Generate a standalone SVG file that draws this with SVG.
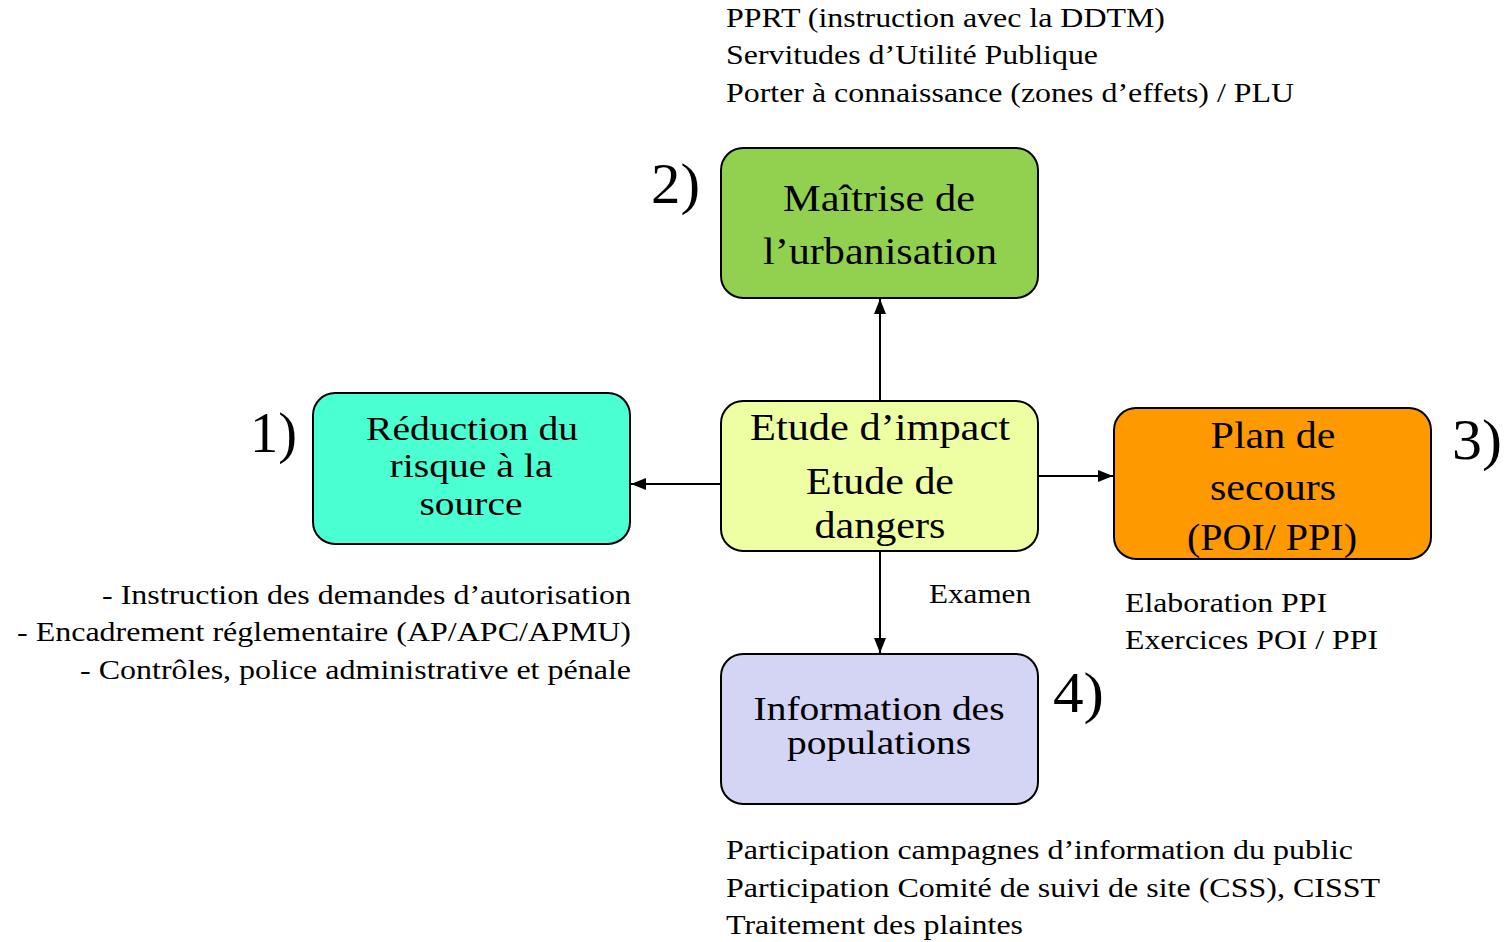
<svg xmlns="http://www.w3.org/2000/svg" width="1505" height="942" viewBox="0 0 1505 942">
<style>
text{font-family:"Times New Roman","Liberation Serif",Times,serif;fill:#000}
.box{stroke:#000;stroke-width:2}
.bt{font-size:37px;text-anchor:middle}
.bs{font-size:33px}
.ot{font-size:27px}
.num{font-size:58px}
.conn line{stroke:#000;stroke-width:2}
</style>
<defs>
<marker id="ah" markerWidth="16" markerHeight="12" refX="15" refY="6" orient="auto" markerUnits="userSpaceOnUse">
<path d="M0,0 L15,6 L0,12 Z" fill="#000"/>
</marker>
</defs>
<rect width="1505" height="942" fill="#fff"/>
<g id="connectors" class="conn">
<line x1="880" y1="401" x2="880" y2="299" marker-end="url(#ah)"/>
<line x1="721" y1="484" x2="631" y2="484" marker-end="url(#ah)"/>
<line x1="1038" y1="476" x2="1113" y2="476" marker-end="url(#ah)"/>
<line x1="880" y1="551" x2="880" y2="653" marker-end="url(#ah)"/>
<text class="ot" x="929" y="603" textLength="102" lengthAdjust="spacingAndGlyphs">Examen</text>
</g>
<g id="node-urbanisation">
<rect class="box" x="721" y="148" width="317" height="150" rx="22" fill="#92D050"/>
<text class="bt" x="879" y="211" textLength="192" lengthAdjust="spacingAndGlyphs">Maîtrise de</text>
<text class="bt" x="880" y="264" textLength="234" lengthAdjust="spacingAndGlyphs">l’urbanisation</text>
</g>
<g id="node-reduction">
<rect class="box" x="313" y="393" width="317" height="151" rx="22" fill="#4AFFD2"/>
<text class="bt bs" x="472" y="440" textLength="212" lengthAdjust="spacingAndGlyphs">Réduction du</text>
<text class="bt bs" x="471" y="477" textLength="163" lengthAdjust="spacingAndGlyphs">risque à la</text>
<text class="bt bs" x="471" y="515" textLength="103" lengthAdjust="spacingAndGlyphs">source</text>
</g>
<g id="node-etude">
<rect class="box" x="721" y="401" width="317" height="150" rx="22" fill="#EDFFA2"/>
<text class="bt" x="880" y="440" textLength="260" lengthAdjust="spacingAndGlyphs">Etude d’impact</text>
<text class="bt" x="880" y="494" textLength="148" lengthAdjust="spacingAndGlyphs">Etude de</text>
<text class="bt" x="880" y="538" textLength="131" lengthAdjust="spacingAndGlyphs">dangers</text>
</g>
<g id="node-secours">
<rect class="box" x="1114" y="408" width="317" height="151" rx="22" fill="#FF9900"/>
<text class="bt" x="1273" y="448" textLength="125" lengthAdjust="spacingAndGlyphs">Plan de</text>
<text class="bt" x="1273" y="500" textLength="126" lengthAdjust="spacingAndGlyphs">secours</text>
<text class="bt" x="1272" y="550" textLength="170" lengthAdjust="spacingAndGlyphs">(POI/ PPI)</text>
</g>
<g id="node-information">
<rect class="box" x="721" y="654" width="317" height="150" rx="22" fill="#D4D4F4"/>
<text class="bt bs" x="879" y="720" textLength="251" lengthAdjust="spacingAndGlyphs">Information des</text>
<text class="bt bs" x="879" y="754" textLength="184" lengthAdjust="spacingAndGlyphs">populations</text>
</g>
<g id="labels-numbers">
<text class="num" x="250" y="452" textLength="47" lengthAdjust="spacingAndGlyphs">1)</text>
<text class="num" x="651" y="203" textLength="49" lengthAdjust="spacingAndGlyphs">2)</text>
<text class="num" x="1452" y="459" textLength="50" lengthAdjust="spacingAndGlyphs">3)</text>
<text class="num" x="1053" y="712" textLength="51" lengthAdjust="spacingAndGlyphs">4)</text>
</g>
<g id="notes-top">
<text class="ot" x="726" y="27" textLength="439" lengthAdjust="spacingAndGlyphs">PPRT (instruction avec la DDTM)</text>
<text class="ot" x="726" y="64" textLength="372" lengthAdjust="spacingAndGlyphs">Servitudes d’Utilité Publique</text>
<text class="ot" x="726" y="102" textLength="568" lengthAdjust="spacingAndGlyphs">Porter à connaissance (zones d’effets) / PLU</text>
</g>
<g id="notes-left">
<text class="ot" x="102" y="604" textLength="529" lengthAdjust="spacingAndGlyphs">- Instruction des demandes d’autorisation</text>
<text class="ot" x="17" y="641" textLength="614" lengthAdjust="spacingAndGlyphs">- Encadrement réglementaire (AP/APC/APMU)</text>
<text class="ot" x="80" y="679" textLength="551" lengthAdjust="spacingAndGlyphs">- Contrôles, police administrative et pénale</text>
</g>
<g id="notes-right">
<text class="ot" x="1125" y="612" textLength="202" lengthAdjust="spacingAndGlyphs">Elaboration PPI</text>
<text class="ot" x="1125" y="649" textLength="253" lengthAdjust="spacingAndGlyphs">Exercices POI / PPI</text>
</g>
<g id="notes-bottom">
<text class="ot" x="726" y="859" textLength="627" lengthAdjust="spacingAndGlyphs">Participation campagnes d’information du public</text>
<text class="ot" x="726" y="897" textLength="654" lengthAdjust="spacingAndGlyphs">Participation Comité de suivi de site (CSS), CISST</text>
<text class="ot" x="726" y="934" textLength="297" lengthAdjust="spacingAndGlyphs">Traitement des plaintes</text>
</g>
</svg>
